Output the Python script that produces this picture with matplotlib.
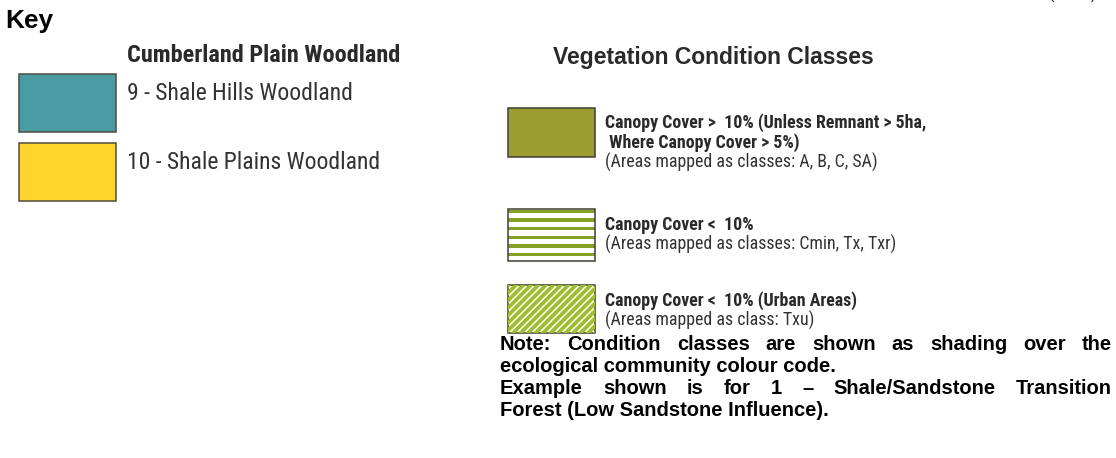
import os
import matplotlib
matplotlib.use("Agg")
import matplotlib.pyplot as plt
from matplotlib.patches import Rectangle
from matplotlib import font_manager as fm
from matplotlib.font_manager import FontProperties

# ---------------- content ----------------
key_title = "Key"
community_title = "Cumberland Plain Woodland"
community_labels = ["9 - Shale Hills Woodland", "10 - Shale Plains Woodland"]
community_colors = ["#4a9ba2", "#fdd52c"]

condition_title = "Vegetation Condition Classes"
condition_bold = [
    ["Canopy Cover >  10% (Unless Remnant > 5ha,", " Where Canopy Cover > 5%)"],
    ["Canopy Cover <  10%"],
    ["Canopy Cover <  10% (Urban Areas)"],
]
condition_sub = [
    "(Areas mapped as classes: A, B, C, SA)",
    "(Areas mapped as classes: Cmin, Tx, Txr)",
    "(Areas mapped as class: Txu)",
]
condition_styles = ["solid", "horizontal", "diagonal"]
olive = "#9b9e2f"
stripe_green = "#86a226"
diag_green = "#9fbd2d"

note_lines = [
    "Note: Condition classes are shown as shading over the",
    "ecological community colour code.",
    "Example shown is for 1 \u2013 Shale/Sandstone Transition",
    "Forest (Low Sandstone Influence).",
]
note_justify = [True, False, True, False]

# ---------------- fonts ----------------
entries = fm.fontManager.ttflist
names = {f.name for f in entries}
arial = "Liberation Sans" if "Liberation Sans" in names else "DejaVu Sans"


def is_cond(f):
    s = (f.name + " " + os.path.basename(f.fname)).lower()
    return ("narrow" in s or "condensed" in s or str(f.stretch) in
            ("condensed", "semi-condensed", "extra-condensed"))


def is_bold(f):
    w = f.weight
    if isinstance(w, str):
        return w in ("bold", "heavy", "black", "demibold", "semibold")
    return w >= 600


def is_italic(f):
    b = os.path.basename(f.fname).lower()
    return f.style != "normal" or "italic" in b or "oblique" in b


pref = ["liberation", "roboto", "open", "noto", "dejavu"]


def pick(bold):
    c = [f for f in entries if is_cond(f) and is_bold(f) == bold and not is_italic(f)
         and "mono" not in f.fname.lower() and "serif" not in f.fname.lower()]
    for p in pref:
        for f in c:
            if p in f.fname.lower():
                return f.fname
    return c[0].fname if c else None


cond_reg = pick(False)
cond_bold = pick(True)


def fp_cond(bold):
    fn = cond_bold if bold else cond_reg
    if fn:
        return FontProperties(fname=fn)
    return FontProperties(family=arial, weight="bold" if bold else "normal")


W, H = 1116, 458
fig = plt.figure(figsize=(W / 100, H / 100), dpi=100)
ax = fig.add_axes([0, 0, 1, 1])
ax.set_xlim(0, W)
ax.set_ylim(H, 0)
ax.axis("off")
fig.canvas.draw()
renderer = fig.canvas.get_renderer()


def width_at(s, fp, size):
    p = fp.copy()
    p.set_size(size)
    t = ax.text(0, 0, s, fontproperties=p)
    w = t.get_window_extent(renderer).width
    t.remove()
    return w


def fit(s, fp, target):
    return 20 * target / width_at(s, fp, 20)


def put(x, y, s, fp, size, color, va="baseline", **kw):
    p = fp.copy()
    p.set_size(size)
    return ax.text(x, y, s, fontproperties=p, color=color, va=va, **kw)


txt_col = "#2a2a2a"
fp_arial_b = FontProperties(family=arial, weight="bold")
fp_arial = FontProperties(family=arial)

# Top-right text, cut off by the top edge as in the source
put(1073, 2.5, "(cont.)", fp_arial, 12, "#333333", va="bottom", ha="center")

put(5, 28, key_title, fp_arial_b, fit(key_title, fp_arial_b, 48), "black")

# community section
fb = fp_cond(True)
fr = fp_cond(False)
s_title = min(fit(community_title, fb, 274), 17.5)
put(127, 62, community_title, fb, s_title, txt_col)
s_lab = min(fit(community_labels[0], fr, 234), 17)
box_tops = [74, 143]
for top, lab, col in zip(box_tops, community_labels, community_colors):
    ax.add_patch(Rectangle((18.5, top), 97.5, 58, facecolor=col,
                           edgecolor="#4d4d40", linewidth=1.1))
    put(127, top + 26, lab, fr, s_lab, "#333333")

# condition section
put(553, 64, condition_title, fp_arial_b,
    min(fit(condition_title, fp_arial_b, 330), 16.5), txt_col)

s_cls = fit(condition_bold[0][0], fb, 322)
if not cond_bold:
    s_cls = 0.5 * (s_cls + 13)
s_cls = min(s_cls, 14)

boxes = [(108, 49), (209, 52), (285, 48)]
text_base = [[128, 148, 168], [230, 250], [306, 326]]
for (top, h), style, blines, sub, bases in zip(boxes, condition_styles,
                                               condition_bold, condition_sub,
                                               text_base):
    x0, w = 508, 87
    rect = Rectangle((x0, top), w, h,
                     facecolor="white" if style != "solid" else olive,
                     edgecolor="none")
    ax.add_patch(rect)
    if style == "horizontal":
        n = 6
        step = h / n
        for k in range(n):
            ax.add_patch(Rectangle((x0, top + k * step + 0.5), w, step * 0.42,
                                   facecolor=stripe_green, edgecolor="none"))
    elif style == "diagonal":
        period = 7.5
        k = -int(h / period) - 2
        while k * period < w + h:
            xs = x0 + k * period
            ln, = ax.plot([xs, xs + h + 10], [top + h + 5, top - 5],
                          color=diag_green, linewidth=2.7, solid_capstyle="butt")
            ln.set_clip_path(rect)
            k += 1
    ax.add_patch(Rectangle((x0, top), w, h, facecolor="none",
                           edgecolor="#3f3f33", linewidth=1.1))
    for bl, yb in zip(blines, bases):
        put(605, yb, bl, fb, s_cls, txt_col)
    put(605, bases[len(blines)], sub, fr, s_cls, "#333333")

# note (justified)
left, right = 500, 1112
note_base = [350, 372, 394, 416]
ns = 14.5
for line, just, y in zip(note_lines, note_justify, note_base):
    if not just:
        put(left, y, line, fp_arial_b, ns, "black")
        continue
    words = line.split(" ")
    widths = [width_at(wd, fp_arial_b, ns) for wd in words]
    gap = (right - left - sum(widths)) / (len(words) - 1)
    x = left
    for wd, wid in zip(words, widths):
        put(x, y, wd, fp_arial_b, ns, "black")
        x += wid + gap

fig.savefig("out.png", dpi=100)
